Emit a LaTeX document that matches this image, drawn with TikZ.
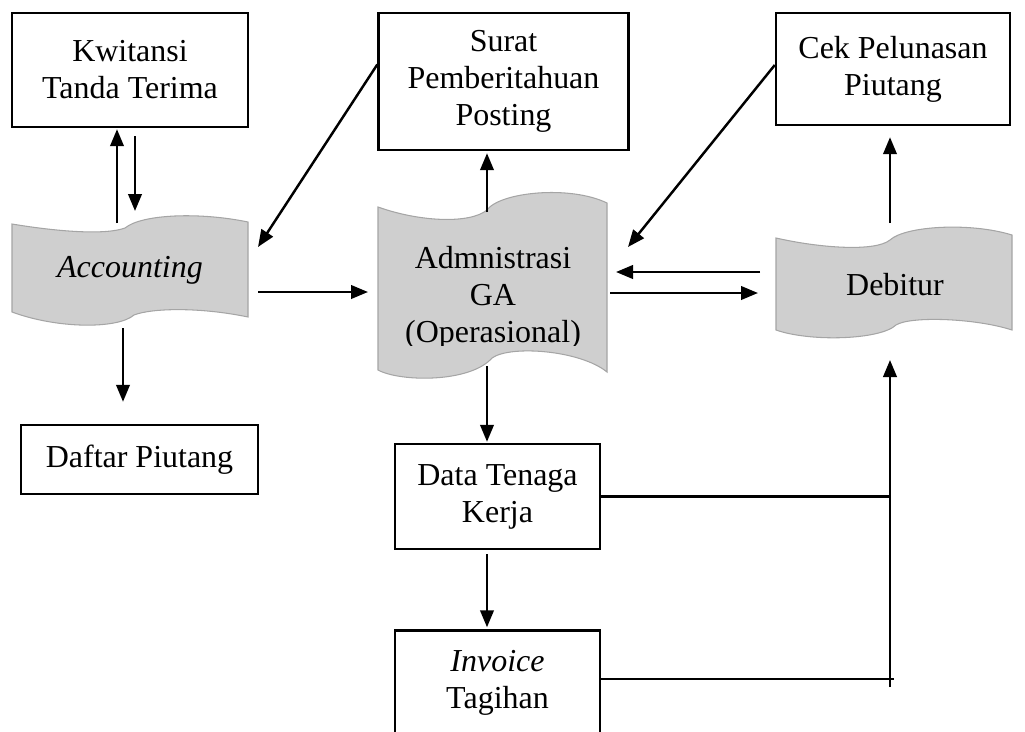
\documentclass[tikz,border=0pt]{standalone}
\usepackage{fontspec}
\setmainfont{Liberation Serif}
\usepackage{tikz}
\usetikzlibrary{arrows.meta}
\definecolor{tapefill}{RGB}{207,207,207}
\definecolor{tapeline}{RGB}{165,165,165}
\tikzset{
  docbox/.style={draw, line width=1.4pt, align=center, inner sep=0pt},
  tapetext/.style={align=center, inner sep=0pt},
  tape/.style={fill=tapefill, draw=tapeline, line width=0.6pt},
  flow/.style={-{Triangle[length=0.34cm,width=0.27cm]}, line width=1.4pt},
  bus/.style={line width=1.4pt}
}
\newcommand{\docnode}[5] {\node at (#1) (#2) [docbox, minimum width=#3, minimum height=#4] {#5};}
\newcommand{\flowarrow}[2] {\draw [flow] (#1) -- (#2);}

\begin{document}
\begin{tikzpicture}[x=0.02cm, y=-0.02cm, font=\fontsize{18.2}{21}\selectfont]

\clip (0,0) rectangle (1025,731);

% tape shapes
\draw [tape] (12,224) .. controls (60,232) and (106,235) .. (125,228)
  .. controls (142,214) and (200,212) .. (248,222) -- (248,317)
  .. controls (200,307) and (152,308) .. (134,315)
  .. controls (118,329) and (58,329) .. (12,312) -- cycle;
\draw [tape] (378,207) .. controls (420,222) and (470,224) .. (487,210)
  .. controls (500,192) and (570,185) .. (607,203) -- (607,372)
  .. controls (580,350) and (510,345) .. (492,358)
  .. controls (470,383) and (400,382) .. (378,370) -- cycle;
\draw [tape] (776,238) .. controls (820,248) and (875,252) .. (890,240)
  .. controls (905,226) and (970,222) .. (1012,235) -- (1012,330)
  .. controls (975,318) and (910,316) .. (896,325)
  .. controls (880,340) and (810,342) .. (776,330) -- cycle;

\node at (130,270) (accounting) [tapetext] {\itshape Accounting};
\begin{scope}
  \clip (370,180) rectangle (620,345);
  \node at (493,298) (admin) [tapetext] {Admnistrasi\\GA\\(Operasional)};
\end{scope}
\node at (895,285) (debitur) [tapetext] {Debitur};

% documents
\docnode {130,70}{kwitansi}{4.72cm}{2.28cm}{Kwitansi\\Tanda Terima};
\docnode {503.5,81.5}{surat}{5.0cm}{2.74cm}{Surat\\Pemberitahuan\\Posting};
\docnode {893,69}{cek}{4.68cm}{2.24cm}{Cek Pelunasan\\Piutang};
\docnode {139.5,459.5}{daftar}{4.74cm}{1.38cm}{Daftar Piutang};
\docnode {497.5,496.5}{data}{4.1cm}{2.1cm}{Data Tenaga\\Kerja};
\docnode {497.5,683}{invoice}{4.1cm}{2.1cm}{{\itshape Invoice}\\Tagihan};

% flows
\flowarrow{[shift={(-13,-47)}]accounting.center}{[shift={(-13,1)}]kwitansi.south};
\flowarrow{[shift={(5,8)}]kwitansi.south}{[shift={(5,-59)}]accounting.center};
\flowarrow{[shift={(-7,58)}]accounting.center}{[shift={(-16.5,-22)}]daftar.north};
\flowarrow{[shift={(0,-17)}]surat.west}{[shift={(128,-23)}]accounting.center};
\flowarrow{[shift={(128,22)}]accounting.center}{[shift={(-125,-6)}]admin.center};
\flowarrow{[shift={(-6,-86)}]admin.center}{[shift={(-16.5,2)}]surat.south};
\flowarrow{[shift={(0,-4)}]cek.west}{[shift={(135,-51)}]admin.center};
\flowarrow{[shift={(-135,-13)}]debitur.center}{[shift={(123,-26)}]admin.center};
\flowarrow{[shift={(117,-5)}]admin.center}{[shift={(-137,8)}]debitur.center};
\flowarrow{[shift={(-5,-62)}]debitur.center}{[shift={(-3,11)}]cek.south};
\flowarrow{[shift={(-6,68)}]admin.center}{[shift={(-10.5,-1)}]data.north};
\flowarrow{[shift={(-10.5,4)}]data.south}{[shift={(-10.5,-2)}]invoice.north};

% lines back to debitur
\coordinate (busend) at (890,687);
\draw [bus] (data.east) -- (data.east -| busend);
\draw [bus] ([shift={(0,-4)}]invoice.east) -- ++(293,0);
\flowarrow{busend}{[shift={(-5,75)}]debitur.center};

\end{tikzpicture}
\end{document}
